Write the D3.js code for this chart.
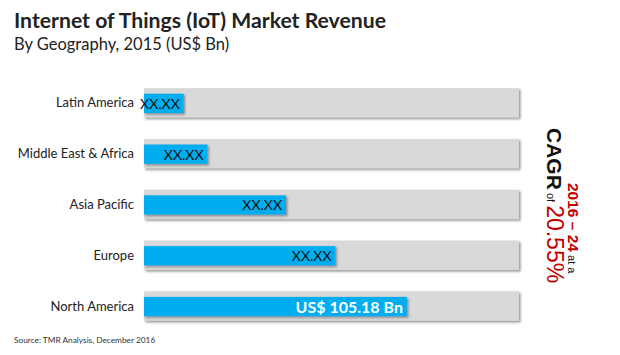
<!DOCTYPE html>
<html><head><meta charset="utf-8">
<script src="https://cdn.jsdelivr.net/npm/d3@7"></script>
<style>body{margin:0;background:#fff}svg{display:block}</style>
</head><body>
<script>
const categories = ["Latin America","Middle East & Africa","Asia Pacific","Europe","North America"];
const values = [15.9, 25.4, 56.8, 76.6, 105.18];
const valueLabels = ["XX.XX","XX.XX","XX.XX","XX.XX","US$ 105.18 Bn"];
const maxValue = 150;

const W = 620, H = 355;
const svg = d3.select("body").append("svg").attr("width", W).attr("height", H);
const font = "Lato, 'Open Sans', sans-serif";

const defs = svg.append("defs");
const f = defs.append("filter").attr("id","sh").attr("x","-5%").attr("y","-20%").attr("width","110%").attr("height","160%");
f.append("feDropShadow").attr("dx",1.5).attr("dy",1.5).attr("stdDeviation",0.8).attr("flood-color","#777").attr("flood-opacity",0.8);

svg.append("text").attr("x",14).attr("y",28).attr("font-family",font).attr("font-weight","bold")
  .attr("font-size",21.2).attr("fill","#222").text("Internet of Things (IoT) Market Revenue");
svg.append("text").attr("x",14).attr("y",50).attr("font-family",font)
  .attr("font-size",16.5).attr("fill","#222").text("By Geography, 2015 (US$ Bn)");

const x = d3.scaleLinear().domain([0, maxValue]).range([144, 519]);
const y = d3.scaleBand().domain(categories).range([78, 331]).paddingInner(0.42).paddingOuter(0.2);

const g = svg.append("g");
// background bars
g.selectAll("rect.bg").data(categories).join("rect").attr("class","bg")
  .attr("x", x(0)).attr("y", d => y(d)).attr("width", x(maxValue) - x(0)).attr("height", y.bandwidth())
  .attr("fill","#d9d9d9").attr("filter","url(#sh)");
// value bars
const bh = y.bandwidth() * 0.66;
g.selectAll("rect.val").data(values).join("rect").attr("class","val")
  .attr("x", x(0)).attr("y", (d,i) => y(categories[i]) + (y.bandwidth()-bh)/2 + 0.5)
  .attr("width", d => x(d) - x(0)).attr("height", bh)
  .attr("fill","#00aeef").attr("filter","url(#sh)");
// value labels
g.selectAll("text.vl").data(values).join("text").attr("class","vl")
  .attr("x", d => x(d) - 4).attr("y", (d,i) => y(categories[i]) + y.bandwidth()/2 + 1)
  .attr("dy","0.35em").attr("text-anchor","end").attr("font-family",font)
  .attr("font-size",(d,i) => i===4 ? 16 : 14).attr("font-weight",(d,i)=> i===4?"bold":"normal")
  .attr("fill",(d,i) => i===4 ? "#fff" : "#111").text((d,i) => valueLabels[i]);
// category labels
g.selectAll("text.cat").data(categories).join("text").attr("class","cat")
  .attr("x", 134).attr("y", d => y(d) + y.bandwidth()/2).attr("dy","0.35em")
  .attr("text-anchor","end").attr("font-family",font).attr("font-size",13).attr("fill","#222").text(d => d);

// source
svg.append("text").attr("x",14).attr("y",343).attr("font-family",font).attr("font-size",8.3)
  .attr("fill","#333").text("Source: TMR Analysis, December 2016");

// rotated CAGR text
const arial = "Arial, 'Liberation Sans', sans-serif";
const l1 = svg.append("text").attr("transform","translate(568,183) rotate(90)").attr("font-family",arial);
l1.append("tspan").attr("fill","#c00000").attr("font-weight","bold").attr("font-size",15.5).text("2016 – 24");
l1.append("tspan").attr("fill","#111").attr("font-size",11).text(" at a");
const l2 = svg.append("text").attr("transform","translate(547,128) rotate(90)").attr("font-family",arial);
l2.append("tspan").attr("fill","#111").attr("font-weight","bold").attr("font-size",21).text("CAGR");
l2.append("tspan").attr("fill","#111").attr("font-size",11).text(" of ");
l2.append("tspan").attr("fill","#c00000").attr("font-size",23).text("20.55%");
</script>
</body></html>
